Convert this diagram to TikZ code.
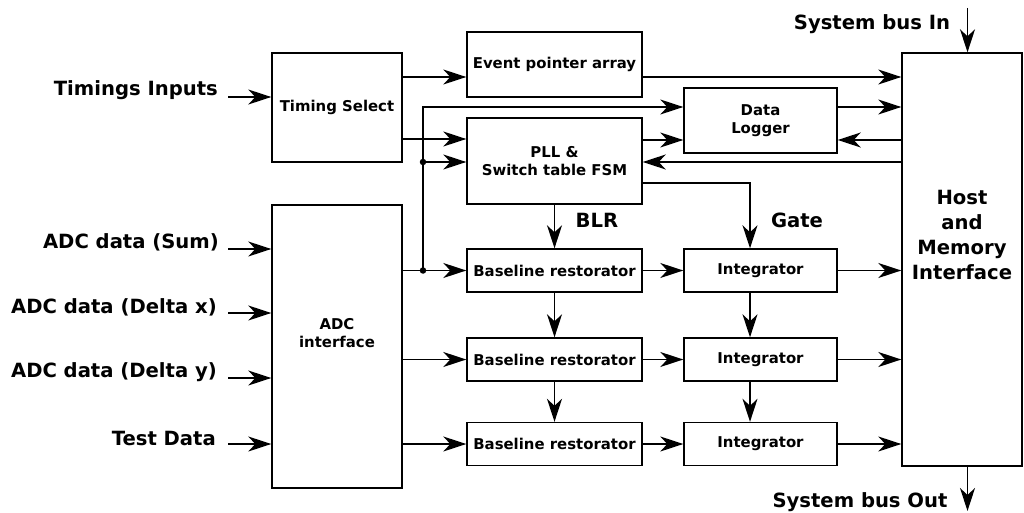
\documentclass[tikz,border=0pt]{standalone}
\usepackage{fontspec}
\setmainfont{DejaVu Sans}
\usetikzlibrary{arrows.meta,calc}
\begin{document}
\begin{tikzpicture}[x=1pt,y=-1pt,
  box/.style={draw, line width=1.4pt, inner sep=0pt, font=\bfseries\fontsize{14.9}{18.5}\selectfont, align=center},
  lbl/.style={font=\bfseries\fontsize{19.6}{23}\selectfont, inner sep=0pt},
  arr/.style={line width=1.4pt, -{Stealth[length=23pt,width=15pt,inset=7pt]}},
  jdot/.style={circle, fill, inner sep=0pt, minimum size=6.5pt}]
\useasboundingbox (0,0) rectangle (1024,513);
% helper coordinates
\coordinate (y77) at (0,77);
\coordinate (y107) at (0,107);
\coordinate (y139) at (0,139);
\coordinate (y140) at (0,140);
\coordinate (y162) at (0,162);
\coordinate (y183) at (0,183);
\coordinate (x750) at (750,0);
\coordinate (x967) at (967.5,0);
% boxes
\node[box, minimum width=130pt, minimum height=109pt] (ts) at (337,107.5) {Timing Select};
\node[box, minimum width=175pt, minimum height=65pt] (epa) at (554.5,64.5) {Event pointer array};
\node[box, minimum width=175pt, minimum height=86pt] (pll) at (554.5,161) {PLL \&\\Switch table FSM};
\node[box, minimum width=153pt, minimum height=65pt] (dl) at (760.5,120.5) {Data\\Logger};
\node[box, minimum width=120pt, minimum height=413pt] (host) at (962,259.5) {};
\node[font=\bfseries\fontsize{19.6}{25}\selectfont, align=center] (hostt) at (962,235) {Host\\and\\Memory\\Interface};
\node[box, minimum width=130pt, minimum height=283pt] (adc) at (337,346.5) {};
\node[box, draw=none] (adct) at (337,333) {ADC\\interface};
\node[box, minimum width=175pt, minimum height=43pt] (br1) at (554.5,270.5) {Baseline restorator};
\node[box, minimum width=175pt, minimum height=43pt] (br2) at (554.5,359.5) {Baseline restorator};
\node[box, minimum width=175pt, minimum height=43pt] (br3) at (554.5,444) {Baseline restorator};
\node[box, minimum width=153pt, minimum height=43pt] (int1) at (760.5,270.5) {Integrator};
\node[box, minimum width=153pt, minimum height=43pt] (int2) at (760.5,359.5) {Integrator};
\node[box, minimum width=153pt, minimum height=43pt] (int3) at (760.5,444) {Integrator};
% labels
\node[lbl, anchor=east] (lti) at (218,90) {Timings Inputs};
\node[lbl, anchor=east] (ls) at (219,242.5) {ADC data (Sum)};
\node[lbl, anchor=east] (lx) at (217,307) {ADC data (Delta x)};
\node[lbl, anchor=east] (ly) at (217,372.5) {ADC data (Delta y)};
\node[lbl, anchor=east] (lt) at (216,438) {Test Data};
\node[lbl] (lblr) at (597,220) {BLR};
\node[lbl] (lgate) at (797,220) {Gate};
\node[lbl] (lin) at (872,24) {System bus In};
\node[lbl] (lout) at (860,502) {System bus Out};
% input arrows
\coordinate (ti) at (228,97);
\coordinate (is) at (228,249);
\coordinate (ix) at (228,313);
\coordinate (iy) at (228,378);
\coordinate (it) at (228,444);
\draw[arr] (ti) -- (ti -| ts.west);
\draw[arr] (is) -- (is -| adc.west);
\draw[arr] (ix) -- (ix -| adc.west);
\draw[arr] (iy) -- (iy -| adc.west);
\draw[arr] (it) -- (it -| adc.west);
% timing select outputs
\draw[arr] (ts.east |- y77) -- (epa.west |- y77);
\draw[arr] (ts.east |- y139) -- (pll.west |- y139);
% ADC outputs
\draw[arr] (adc.east |- br1) -- (br1.west);
\draw[arr] (adc.east |- br2) -- (br2.west);
\draw[arr] (adc.east |- br3) -- (br3.west);
% junctions
\node[jdot] (j1) at (423,270.5) {};
\node[jdot] (j2) at (423,162) {};
\draw[arr] (j1.center) |- (dl.west |- y107);
\draw[arr] (j2.center) -- (pll.west |- y162);
% event pointer, data logger, host
\draw[arr] (epa.east |- y77) -- (host.west |- y77);
\draw[arr] (pll.east |- y140) -- (dl.west |- y140);
\draw[arr] (dl.east |- y107) -- (host.west |- y107);
\draw[arr] (host.west |- y140) -- (dl.east |- y140);
\draw[arr] (host.west |- y162) -- (pll.east |- y162);
% PLL to chains
\draw[arr] (pll.east |- y183) -| (x750 |- int1.north);
\draw[arr] (pll.south) -- (br1.north);
\draw[arr] (br1.south) -- (br2.north);
\draw[arr] (br2.south) -- (br3.north);
\draw[arr] (x750 |- int1.south) -- (x750 |- int2.north);
\draw[arr] (x750 |- int2.south) -- (x750 |- int3.north);
% BR to Int
\draw[arr] (br1.east) -- (int1.west);
\draw[arr] (br2.east) -- (int2.west);
\draw[arr] (br3.east) -- (int3.west);
% Int to Host
\draw[arr] (int1.east) -- (host.west |- int1);
\draw[arr] (int2.east) -- (host.west |- int2);
\draw[arr] (int3.east) -- (host.west |- int3);
% system bus
\coordinate (sbin) at (967.5,8);
\coordinate (sbout) at (967.5,511);
\draw[arr] (sbin) -- (x967 |- host.north);
\draw[arr] (x967 |- host.south) -- (sbout);
\end{tikzpicture}
\end{document}
